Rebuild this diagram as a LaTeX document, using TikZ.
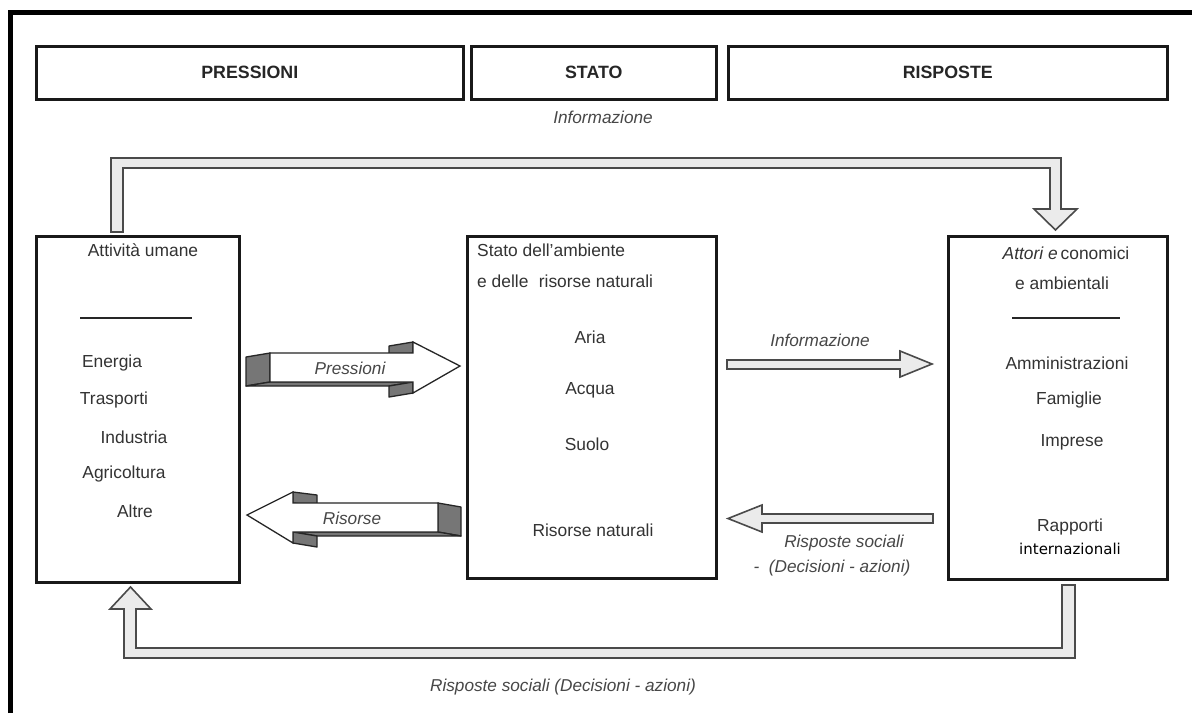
\documentclass[tikz,border=0pt]{standalone}
\usepackage{fontspec}
\setmainfont{Liberation Sans}
\newfontfamily\dvs{DejaVu Sans}
\usetikzlibrary{calc}
\definecolor{txtc}{HTML}{333333}
\definecolor{labc}{HTML}{474747}
\definecolor{holc}{HTML}{EBEBEB}
\definecolor{holline}{HTML}{4A4A4A}
\definecolor{facec}{HTML}{767676}
\begin{document}
\begin{tikzpicture}[x=1pt,y=-1pt,
  box/.style={draw=black!90, line width=2.5pt, anchor=north west, inner sep=0pt},
  hdr/.style={box, minimum height=53pt},
  tx/.style={text=txtc, font=\fontsize{17.4}{20}\selectfont, inner sep=0pt},
  hd/.style={text=black!85, font=\fontsize{17.8}{20}\selectfont\bfseries, inner sep=0pt},
  lbl/.style={text=labc, font=\fontsize{17.2}{20}\selectfont\itshape, inner sep=0pt},
  hollow/.style={fill=holc, draw=holline, line width=1.6pt, line join=miter},
  darkface/.style={fill=facec, draw=black!85, line width=1.3pt, line join=round},
  frontface/.style={fill=white, draw=black!85, line width=1.3pt, line join=miter},
  rulebar/.style={draw=black!85, line width=2pt}
]
\useasboundingbox (0,0) rectangle (1192,713);
\fill[white] (0,0) rectangle (1192,713);
% outer frame
\draw[line width=5pt] (10,713) -- (10,12.5) -- (1192,12.5);

% headers
\node[hdr, minimum width=427pt] (hp) at (35,45) {};
\node[hd] (hpt) at (hp.center) {PRESSIONI};
\node[hdr, minimum width=245pt] (hs) at (470,45) {};
\node[hd] (hst) at (hs.center) {STATO};
\node[hdr, minimum width=439pt] (hr) at (727,45) {};
\node[hd] (hrt) at (hr.center) {RISPOSTE};

% main boxes
\node[box, minimum width=203pt, minimum height=346pt] (L) at (35,235) {};
\node[box, minimum width=249pt, minimum height=342pt] (M) at (466,235) {};
\node[box, minimum width=219pt, minimum height=343pt] (R) at (947,235) {};

% left box content
\node[tx] (l0) at (143,250) {Attività umane};
\draw[rulebar] (80,318) -- (192,318);
\node[tx] (l1) at (112,363) {Energia};
\node[tx] (l2) at (114,400) {Trasporti};
\node[tx] (l3) at (134,437) {Industria};
\node[tx] (l4) at (124,474) {Agricoltura};
\node[tx] (l5) at (135,511) {Altre};

% middle box content
\node[tx, anchor=west] (m0) at (477,250) {Stato dell'ambiente};
\node[tx, anchor=west] (m1) at (477,281) {e delle\hspace{0.6em}risorse naturali};
\node[tx] (m2) at (590,337) {Aria};
\node[tx] (m3) at (590,390) {Acqua};
\node[tx] (m4) at (587,444) {Suolo};
\node[tx] (m5) at (593,530) {Risorse naturali};

% right box content
\node[tx] (r0) at (1066,253) {\textit{Attori e}\,conomici};
\node[tx] (r1) at (1062,283) {e ambientali};
\draw[rulebar] (1012,318) -- (1120,318);
\node[tx] (r2) at (1067,363) {Amministrazioni};
\node[tx] (r3) at (1069,400) {Famiglie};
\node[tx] (r4) at (1072,442) {Imprese};
\node[tx] (r5) at (1070,527) {Rapporti};
\node[inner sep=0pt, font=\dvs\fontsize{15}{17}\selectfont] (r6) at (1070,549) {internazionali};

% top hollow arrow: Informazione (L -> R)
\draw[hollow] (111,232) -- (111,158) -- (1061,158) -- (1061,209) -- (1077,209)
  -- (1055.5,230) -- (1034,209) -- (1050,209) -- (1050,168) -- (123,168) -- (123,232) -- cycle;
\node[lbl] (ti) at (603,117) {Informazione};

% bottom hollow arrow: Risposte sociali (R -> L)
\draw[hollow] (1075,585) -- (1075,658) -- (124,658) -- (124,609) -- (110,609)
  -- (130.5,587) -- (151,609) -- (136,609) -- (136,648) -- (1062,648) -- (1062,585) -- cycle;
\node[lbl] (bi) at (563,687) {Risposte sociali (Decisioni - azioni)};

% middle hollow arrow: Informazione (M -> R)
\draw[hollow] (727,360) -- (900,360) -- (900,351) -- (932,364) -- (900,377) -- (900,369) -- (727,369) -- cycle;
\node[lbl] (mi) at (820,340) {Informazione};

% middle hollow arrow: Risposte sociali (R -> M)
\draw[hollow] (933,514) -- (762,514) -- (762,505) -- (728,518.5) -- (762,532) -- (762,523) -- (933,523) -- cycle;
\node[lbl] (rs1) at (844,543) {Risposte sociali};
\node[lbl] (rs2) at (832,568) {-\ \ (Decisioni - azioni)};

% 3D arrow: Pressioni (L -> M)
\draw[darkface] (246,357) -- (270,353) -- (270,382) -- (246,386) -- cycle;
\draw[darkface] (270,382) -- (413,382) -- (389,386) -- (246,386) -- cycle;
\draw[darkface] (389,346) -- (413,342) -- (413,353) -- (389,357) -- cycle;
\draw[darkface] (413,382) -- (413,393) -- (389,397) -- (389,386) -- cycle;
\draw[frontface] (270,353) -- (413,353) -- (413,342) -- (460,366) -- (413,393) -- (413,382) -- (270,382) -- cycle;
\node[lbl] (pa) at (350,368) {Pressioni};

% 3D arrow: Risorse (M -> L)
\draw[darkface] (438,503) -- (461,507) -- (461,536) -- (438,532) -- cycle;
\draw[darkface] (293,532) -- (438,532) -- (461,536) -- (317,536) -- cycle;
\draw[darkface] (293,492) -- (317,495) -- (317,506) -- (293,503) -- cycle;
\draw[darkface] (293,532) -- (293,543) -- (317,547) -- (317,536) -- cycle;
\draw[frontface] (438,503) -- (293,503) -- (293,492) -- (247,515) -- (293,543) -- (293,532) -- (438,532) -- cycle;
\node[lbl] (ra) at (352,518) {Risorse};
\end{tikzpicture}
\end{document}
